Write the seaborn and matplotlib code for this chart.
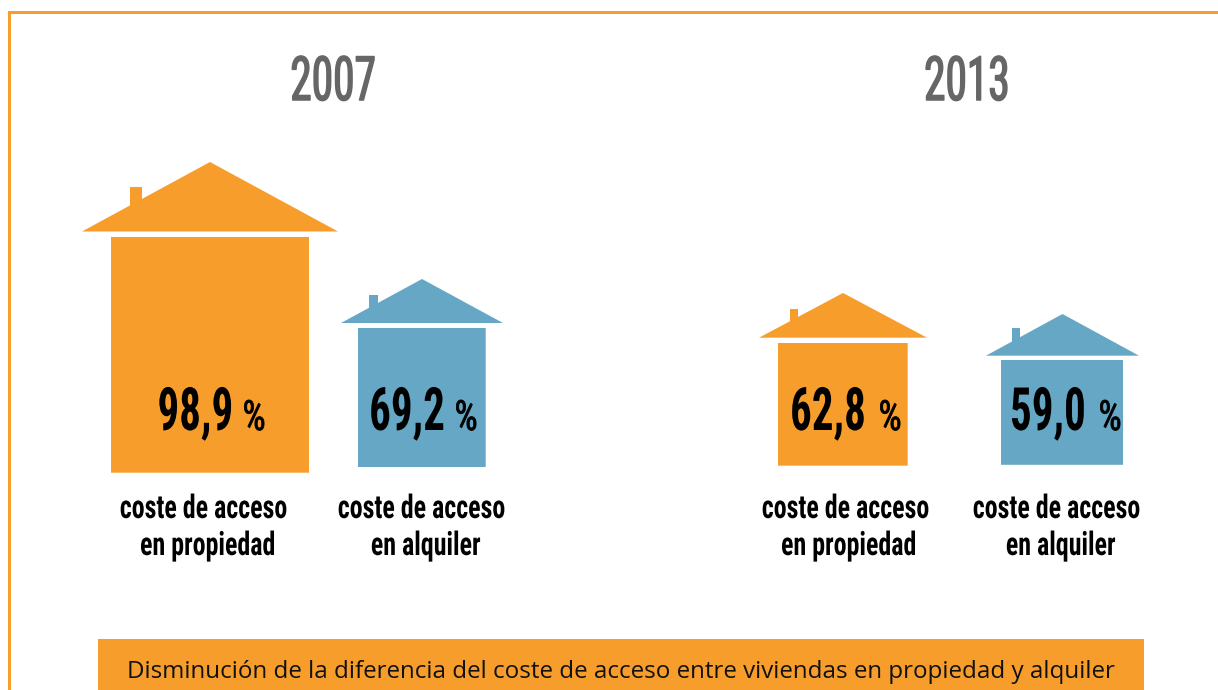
import matplotlib
matplotlib.use("Agg")
import matplotlib.pyplot as plt
import matplotlib.patheffects as pe
from matplotlib.transforms import Affine2D
import seaborn as sns
import pandas as pd

W, H = 1218, 690
ORANGE = "#f79d2b"
BLUE = "#65a7c4"
GREY = "#666666"
NARROW = ["Roboto Condensed", "Roboto", "DejaVu Sans"]

years = ["2007", "2007", "2013", "2013"]
tenure = ["propiedad", "alquiler", "propiedad", "alquiler"]
values = [98.9, 69.2, 62.8, 59.0]
value_labels = ["98,9", "69,2", "62,8", "59,0"]
year_labels = ["2007", "2013"]
footer = "Disminución de la diferencia del coste de acceso entre viviendas en propiedad y alquiler"

# caja de cada casa en pixeles: izq, arriba, der, abajo del cuerpo
boxes = [(111, 237, 309, 472.7), (357.5, 328, 485.7, 467.3), (778, 343, 907.7, 465.7), (1001, 360, 1123, 464.8)]
# tejado: izq, der, cumbre, base; chimenea: izq, der, arriba
roofs = [(82, 338, 162, 231.5), (341, 503, 279, 323), (759, 927, 293, 337.7), (986, 1139, 314, 355.7)]
chimneys = [(130, 142, 187), (369, 378, 295), (790, 798, 309), (1012, 1020, 328)]
label_x = [203.5, 421.5, 845.5, 1056.5]
label2_x = [207.5, 425.5, 848.5, 1060.5]
year_x = [333, 967]
value_x = [195.5, 407, 828, 1048]
pct_x = [254, 466, 890, 1110]


class Squeeze(pe.AbstractPathEffect):
    # estrecha el texto sobre su centro, no hay fuente tan condensada instalada
    def __init__(self, sx, stroke=0):
        super().__init__()
        self.sx = sx
        self.stroke = stroke

    def draw_path(self, renderer, gc, tpath, affine, rgbFace=None):
        box = tpath.get_extents(affine)
        xc = (box.x0 + box.x1) / 2
        squeezed = affine + Affine2D().translate(-xc, 0).scale(self.sx, 1).translate(xc, 0)
        gc2 = renderer.new_gc()
        gc2.copy_properties(gc)
        gc2.set_linewidth(self.stroke)
        gc2.set_foreground(rgbFace)
        renderer.draw_path(gc2, tpath, squeezed, rgbFace)
        gc2.restore()


sns.set_theme(style="white")
fig = plt.figure(figsize=(W / 100, H / 100), dpi=100)
bg = fig.add_axes([0, 0, 1, 1], zorder=5)
bg.set_xlim(0, W)
bg.set_ylim(H, 0)
bg.axis("off")

# marco y banda inferior
bg.plot([8.5, 8.5, W], [H, 11.5, 11.5], color=ORANGE, lw=2.16, solid_joinstyle="miter")
bg.fill_between([98, 1144], 639, H, color=ORANGE, lw=0)
bg.text(621, 678, footer, ha="center", va="baseline", fontsize=17.4, color="#111111",
        family=["Open Sans", "DejaVu Sans"])

df = pd.DataFrame({"year": years, "tenure": tenure, "value": values})
colors = {"propiedad": ORANGE, "alquiler": BLUE}

for i, row in df.iterrows():
    l, t, r, b = boxes[i]
    ax = fig.add_axes([l / W, 1 - b / H, (r - l) / W, (b - t) / H])
    sns.barplot(data=df.iloc[[i]], x="tenure", y="value", color=colors[row["tenure"]],
                width=1, saturation=1, ax=ax, errorbar=None)
    ax.set_ylim(0, row["value"])
    ax.set_xlim(-0.5, 0.5)
    ax.axis("off")
    for p in ax.patches:
        p.set_snap(False)
        p.set_linewidth(0)

    rl, rr, peak, base = roofs[i]
    cl, cr, ct = chimneys[i]
    color = colors[row["tenure"]]
    bg.fill([rl, (rl + rr) / 2, rr], [base, peak, base], color=color, lw=0)
    bg.fill([cl, cr, cr, cl], [ct, ct, base - 5, base - 5], color=color, lw=0)

    bg.text(value_x[i], 430, value_labels[i], ha="center", va="baseline", fontsize=43, weight="bold",
            family=NARROW, color="black", path_effects=[Squeeze(0.72)])
    bg.text(pct_x[i], 430, "%", ha="center", va="baseline", fontsize=30,
            family=NARROW, color="black", path_effects=[Squeeze(0.88, stroke=0.6)])
    bg.text(label_x[i], 518, "coste de acceso", ha="center", va="baseline", fontsize=23.5, weight="bold",
            family=NARROW, color="black", path_effects=[Squeeze(0.795)])
    bg.text(label2_x[i], 555, "en " + row["tenure"], ha="center", va="baseline", fontsize=23.5, weight="bold",
            family=NARROW, color="black", path_effects=[Squeeze(0.795)])

for x, y in zip(year_x, year_labels):
    bg.text(x, 100, y, ha="center", va="baseline", fontsize=44, family=NARROW, color=GREY,
            path_effects=[Squeeze(0.71, stroke=1.1)])

fig.savefig("out.png", dpi=100)
plt.close(fig)
